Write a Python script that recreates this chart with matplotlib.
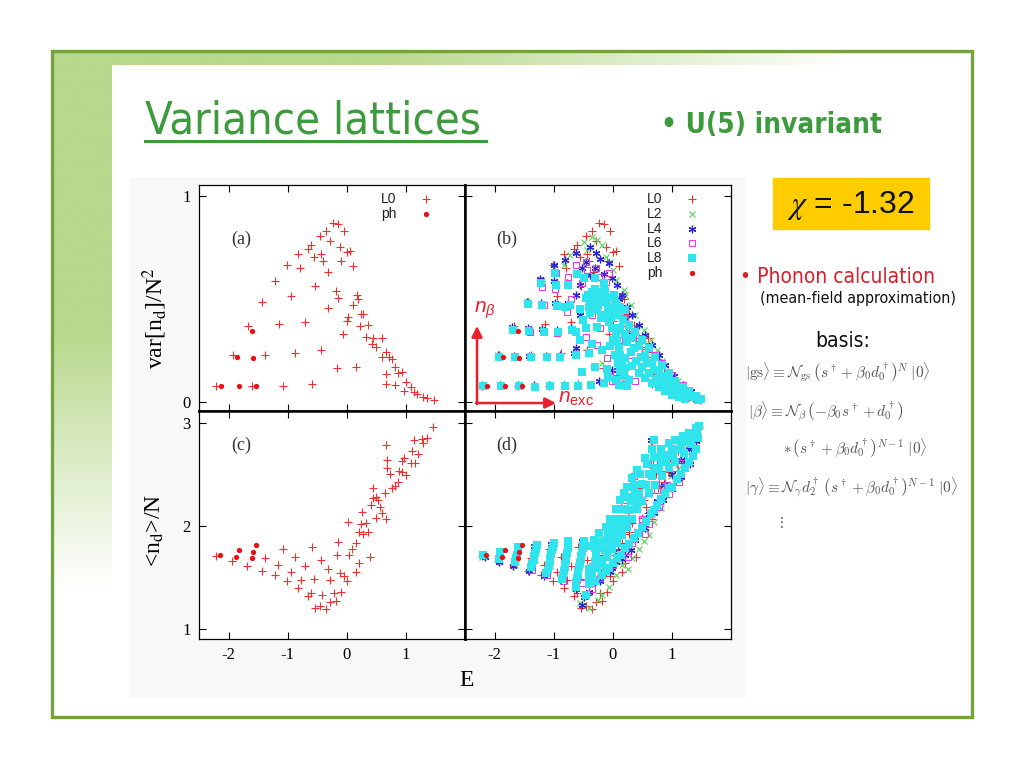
import numpy as np
import matplotlib
matplotlib.use('Agg')
import matplotlib.pyplot as plt
from matplotlib.patches import Rectangle

plt.rcParams['axes.unicode_minus'] = False
plt.rcParams['mathtext.fontset'] = 'custom'
plt.rcParams['mathtext.rm'] = 'Liberation Sans'
plt.rcParams['mathtext.it'] = 'Liberation Sans:italic'

# ---- data: (E, var[nd]/N^2) for the top panels
l0_var = [(-2.21,0.078),(-1.60,0.078),(-1.08,0.078),(-0.59,0.086),
          (-1.93,0.228),(-1.38,0.23),(-0.87,0.236),(-0.43,0.254),(-0.16,0.162),(0.16,0.17),
          (-1.67,0.367),(-1.15,0.377),(-0.70,0.387),(-0.06,0.33),
          (-1.44,0.485),(-0.94,0.513),(-0.31,0.456),(-0.15,0.505),
          (-1.22,0.59),(-0.79,0.652),(-0.54,0.561),(-0.31,0.63),(-0.19,0.539),(0.10,0.663),
          (-1.01,0.668),(-0.82,0.72),(-0.55,0.704),(-0.40,0.683),(-0.10,0.684),(0.01,0.728),(0.05,0.733),
          (-0.66,0.744),(-0.60,0.764),(-0.43,0.717),(-0.28,0.78),(-0.11,0.752),
          (-0.46,0.807),(-0.35,0.833),(-0.23,0.869),(-0.15,0.866),(-0.04,0.83),
          (0.18,0.518),(0.19,0.50),(0.10,0.469),(0.24,0.426),(0.28,0.429),(0.02,0.413),(0.01,0.393),
          (0.22,0.369),(0.36,0.372),(0.32,0.316),(0.45,0.312),(0.60,0.31),(0.43,0.283),(0.50,0.267),
          (0.66,0.243),(0.71,0.218),(0.59,0.218),(0.77,0.21),(0.82,0.17),(0.93,0.146),(0.87,0.138),
          (0.66,0.134),(1.00,0.097),(1.09,0.073),(1.14,0.049),(1.19,0.036),(1.29,0.024),(1.36,0.016),
          (1.47,0.008),(0.66,0.086),(0.81,0.083),(0.97,0.053)]

l2_var = [(-0.49,0.778),(-0.35,0.803),(-0.27,0.786),(-0.18,0.762),(-0.44,0.738),(-0.12,0.705),
          (0.05,0.592),(0.19,0.544),(0.21,0.519),(0.38,0.422),(0.53,0.35),(0.64,0.301),(0.84,0.196),
          (0.95,0.147),(-0.18,0.188),(-0.83,0.668),(-1.20,0.592),(-0.72,0.714),(-0.05,0.68),(0.00,0.64),
          (0.30,0.47),(0.75,0.25),(1.10,0.10),(1.30,0.04),(-1.45,0.49),(-1.70,0.36),(-1.95,0.23),(-2.22,0.08)]

l4_var = [(-2.22,0.08),(-1.91,0.08),(-1.61,0.08),(-1.33,0.08),(-1.08,0.08),(-0.82,0.08),
          (-1.95,0.228),(-1.67,0.225),(-1.41,0.225),(-1.13,0.225),(-0.90,0.228),(-0.65,0.236),
          (-1.70,0.366),(-1.44,0.36),(-1.19,0.355),(-0.95,0.35),(-0.70,0.36),
          (-1.45,0.487),(-1.21,0.48),(-0.97,0.479),(-0.76,0.48),
          (-1.23,0.597),(-0.99,0.59),(-0.77,0.58),(-0.55,0.57),
          (-1.00,0.665),(-0.80,0.689),(-0.63,0.722),(-0.52,0.649),(-0.38,0.617),
          (-0.38,0.754),(-0.29,0.722),(-0.21,0.697),(-0.07,0.673),(-0.01,0.60),(0.07,0.568),
          (0.16,0.519),(0.24,0.463),(0.33,0.422),(0.44,0.374),(0.55,0.325),(0.67,0.277),(0.78,0.228),
          (0.89,0.18),(1.03,0.123),(1.18,0.083),(1.32,0.05),(1.46,0.021),
          (-0.63,0.519),(-0.55,0.422),(-0.63,0.26),(-0.24,0.099),(-0.01,0.155),(-0.46,0.68),
          (-0.30,0.65),(-0.15,0.62),(0.10,0.50),(0.20,0.40),(0.30,0.33),(0.40,0.27)]

l6_var = [(-0.96,0.628),(-0.75,0.608),(-0.63,0.665),(-0.44,0.64),(-0.24,0.608),(-0.12,0.584),
          (-0.52,0.576),(-0.77,0.438),(-0.94,0.333),(-0.46,0.317),(-0.27,0.277),(-0.21,0.358),
          (-0.10,0.212),(0.05,0.147),(0.21,0.115),(0.38,0.099),(-0.01,0.099),(0.21,0.406),
          (0.33,0.358),(0.44,0.309),(0.55,0.269),(0.69,0.228),(0.84,0.188),(1.01,0.131),(1.18,0.083),
          (-1.17,0.471),(-0.46,0.681),(-0.29,0.649),(-0.07,0.625),(-1.20,0.56),(-0.98,0.55),
          (-1.40,0.34),(-0.70,0.50),(-0.35,0.42),(0.10,0.30),(0.30,0.20)]

l8_var = [(-2.20,0.078),(-1.89,0.078),(-1.59,0.078),(-1.31,0.074),(-1.06,0.078),(-0.80,0.078),
          (-0.58,0.079),(-0.36,0.083),(-0.15,0.091),(0.05,0.104),(0.24,0.079),(-0.52,0.144),
          (-1.93,0.22),(-1.65,0.217),(-1.38,0.217),(-1.11,0.22),(-0.89,0.22),(-0.63,0.228),
          (-0.41,0.236),(-0.19,0.252),
          (-1.69,0.35),(-1.42,0.345),(-1.17,0.341),(-0.93,0.341),(-0.69,0.35),(-0.46,0.358),(-0.27,0.366),
          (-1.44,0.474),(-1.19,0.471),(-0.94,0.468),(-0.72,0.471),
          (-1.21,0.576),(-0.96,0.568),(-0.75,0.568),(-0.98,0.625),
          (-0.46,0.503),(-0.38,0.495),(-0.29,0.511),(-0.21,0.495),(-0.12,0.484),(-0.04,0.503),
          (0.05,0.479),(0.13,0.463),(0.21,0.447),(-0.41,0.463),(-0.27,0.447),(-0.15,0.422),
          (-0.07,0.439),(-0.21,0.536),(-0.35,0.532),
          (-0.07,0.39),(-0.01,0.358),(0.05,0.325),(0.07,0.293),(0.10,0.26),(0.13,0.228),
          (0.16,0.196),(0.21,0.163),(0.19,0.123),(0.27,0.107),
          (0.27,0.374),(0.38,0.341),(0.50,0.301),(0.61,0.26),(0.72,0.22),(0.84,0.18),(0.95,0.139),
          (1.06,0.099),(1.18,0.074),(1.29,0.05),(1.40,0.026),(1.49,0.015),
          (0.24,0.293),(0.36,0.26),(0.47,0.22),(0.58,0.188),(0.69,0.155),(0.81,0.123),(0.92,0.099),
          (1.03,0.074),(1.15,0.053),(1.26,0.034),(1.37,0.021),
          (0.21,0.212),(0.33,0.172),(0.44,0.139),(0.55,0.115),(0.67,0.091),(0.78,0.07),(0.89,0.05),
          (1.01,0.034),(1.12,0.023),(1.23,0.015),
          (-0.42,0.52),(-0.33,0.48),(-0.25,0.47),(-0.17,0.51),(-0.08,0.46),(0.00,0.44),(0.09,0.42),
          (0.17,0.40),(-0.30,0.55),(-0.13,0.54),(0.02,0.52),(-0.38,0.43),(-0.20,0.41),(-0.03,0.41),
          (0.13,0.36),(0.00,0.30),(0.08,0.35),(-0.05,0.27),(0.03,0.23),(0.08,0.19),(0.12,0.15),
          (0.30,0.24),(0.40,0.20),(0.50,0.17),(0.62,0.14),(0.73,0.11),(0.85,0.09),(0.97,0.065),
          (0.33,0.31),(0.44,0.27),(0.55,0.23),(0.66,0.19),(0.78,0.15),(0.90,0.12),(1.00,0.09),
          (1.10,0.06),(1.20,0.04),(1.33,0.03),(1.44,0.01),(0.20,0.33),(-0.60,0.62),(-0.48,0.60),
          (-0.30,0.60),(-0.15,0.58),(-0.55,0.30),(-0.35,0.28),(-0.30,0.17),(-0.10,0.16),(-0.08,0.12),
          (0.10,0.08),(-0.80,0.46),(-0.55,0.45),(-0.50,0.40),(-0.62,0.34)]

ph_var = [(-2.12,0.075),(-1.83,0.075),(-1.54,0.075),(-1.86,0.217),(-1.58,0.212),(-1.60,0.346)]

# ---- (E, <nd>/N) for the bottom panels
l0_nd = [(-2.21,1.71),(-1.94,1.655),(-1.68,1.61),(-1.43,1.56),(-1.38,1.69),(-1.22,1.52),(-1.17,1.62),
         (-1.08,1.77),(-1.01,1.46),(-0.95,1.55),(-0.87,1.70),(-0.82,1.40),(-0.77,1.47),(-0.70,1.61),
         (-0.66,1.315),(-0.60,1.35),(-0.59,1.79),(-0.55,1.48),(-0.54,1.20),(-0.46,1.22),(-0.43,1.67),
         (-0.42,1.33),(-0.35,1.19),(-0.31,1.58),(-0.29,1.26),(-0.28,1.47),(-0.22,1.35),(-0.18,1.27),
         (-0.16,1.72),(-0.15,1.84),(-0.10,1.36),(-0.11,1.54),(-0.04,1.51),(0.01,1.46),(0.03,1.72),
         (0.02,2.04),(0.09,1.77),(0.16,1.55),(0.20,1.64),(0.16,1.83),(0.20,1.94),(0.24,2.02),
         (0.26,2.13),(0.28,1.92),(0.33,2.03),(0.36,1.94),(0.40,1.70),(0.41,2.20),(0.44,2.27),
         (0.49,2.28),(0.45,2.37),(0.49,2.08),(0.53,2.25),(0.57,2.18),(0.60,2.12),(0.64,2.32),
         (0.66,2.07),(0.66,2.78),(0.68,2.64),(0.68,2.56),(0.73,2.50),(0.77,2.365),(0.82,2.39),
         (0.87,2.43),(0.88,2.53),(0.93,2.52),(0.94,2.63),(0.97,2.66),(1.00,2.49),(1.10,2.73),
         (1.08,2.61),(1.15,2.61),(1.14,2.83),(1.21,2.70),(1.28,2.84),(1.29,2.80),(1.35,2.85),(1.46,2.96)]

l2_nd = [(-0.07,1.41),(0.05,1.52),(0.16,1.62),(0.33,1.69),(0.44,1.77),(0.61,1.91),(0.69,2.04),
         (0.81,2.17),(0.98,2.48),(-0.18,1.33),(-0.41,1.20),(-0.25,1.28),(-0.55,1.25),(0.25,1.58),
         (0.90,2.30),(1.10,2.55),(0.52,1.85),(-2.21,1.70),(-1.91,1.66),(-1.66,1.62)]

l4_nd = [(-2.17,1.70),(-1.92,1.65),(-1.68,1.61),(-1.42,1.56),(-1.17,1.51),(-0.87,1.48),(-0.63,1.39),
         (-0.49,1.31),(-0.52,1.23),(-0.18,1.56),(0.05,1.65),(0.21,1.72),(0.38,1.86),(0.53,2.01),
         (0.61,2.11),(0.75,2.24),(0.86,2.40),(1.01,2.50),(1.15,2.64),(1.29,2.75),(1.40,2.82),
         (0.64,2.83),(-0.01,1.59),(-0.21,1.46),(-0.41,1.36),(-1.90,1.74),(-1.62,1.78),(-1.33,1.80),
         (-1.05,1.82),(-0.78,1.84),(-0.52,1.85),(-0.30,1.45),(0.10,1.75),(0.45,1.95),
         (0.55,1.98),(0.70,2.12),(0.85,2.25),(1.00,2.36),(1.15,2.47),(1.30,2.60),(0.30,1.76),
         (0.15,1.68),(-0.05,1.55)]

l6_nd = [(0.69,2.62),(0.36,2.48),(0.19,2.19),(0.75,2.35),(0.92,2.40),(0.50,2.07),(0.33,1.83),
         (-0.21,1.49),(-0.35,1.39),(-0.52,1.44),(0.64,2.11),(0.84,2.43),(1.06,2.56),(1.18,2.67),
         (-1.37,1.57),(-1.12,1.52),(-0.85,1.46),(0.00,1.62),(0.25,1.70),(0.55,1.92),
         (0.62,2.02),(0.78,2.18),(0.95,2.31),(1.12,2.43)]

l8_nd = [(-2.19,1.72),(-1.90,1.75),(-1.91,1.715),(-1.92,1.68),
         (-1.60,1.79),(-1.61,1.755),(-1.62,1.72),(-1.635,1.685),(-1.65,1.65),
         (-1.28,1.81),(-1.295,1.775),(-1.31,1.74),(-1.325,1.705),(-1.34,1.67),(-1.36,1.635),(-1.38,1.60),
         (-1.00,1.83),(-1.015,1.795),(-1.03,1.76),(-1.045,1.725),(-1.06,1.69),(-1.07,1.65),
         (-1.08,1.61),(-1.10,1.575),(-1.13,1.54),
         (-0.75,1.85),(-0.755,1.815),(-0.76,1.78),(-0.775,1.74),(-0.79,1.70),(-0.795,1.665),
         (-0.80,1.63),(-0.815,1.595),(-0.83,1.56),(-0.845,1.52),(-0.86,1.48),
         (-0.49,1.85),(-0.50,1.815),(-0.51,1.78),(-0.52,1.745),(-0.53,1.71),(-0.54,1.675),
         (-0.55,1.64),(-0.565,1.60),(-0.58,1.56),(-0.59,1.525),(-0.60,1.49),(-0.615,1.45),(-0.63,1.41),
         (-0.32,1.86),(-0.24,1.93),(-0.12,1.99),(-0.04,2.07),(0.05,2.16),(0.13,2.25),(0.19,2.32),
         (0.24,2.38),(0.33,2.46),(0.41,2.54),(0.55,2.66),(0.67,2.75),(0.69,2.83),(0.81,2.75),
         (0.95,2.80),(1.06,2.83),(1.18,2.87),(1.29,2.90),(1.40,2.95),(1.46,2.97),
         (-0.29,1.72),(-0.21,1.78),(-0.12,1.85),(-0.04,1.91),(0.05,1.99),(0.13,2.07),(0.21,2.16),
         (0.30,2.24),(0.38,2.32),(0.50,2.41),(0.61,2.50),(0.72,2.56),(0.84,2.62),(0.95,2.69),
         (1.09,2.75),(1.23,2.82),(1.34,2.88),
         (-0.35,1.52),(-0.27,1.59),(-0.18,1.64),(-0.10,1.70),(-0.01,1.77),(0.07,1.83),(0.16,1.91),
         (0.24,1.99),(0.33,2.07),(0.41,2.16),(0.50,2.24),(0.61,2.32),(0.72,2.40),(0.84,2.48),
         (0.95,2.56),(1.06,2.62),(1.20,2.71),(1.32,2.79),
         (-0.41,1.43),(-0.46,1.33),(-0.18,1.52),(-0.07,1.59),(0.07,1.69),(0.21,1.78),(0.36,1.88),
         (0.50,1.99),(0.64,2.11),(0.75,2.20),(0.89,2.32),(1.01,2.38),(1.15,2.50),(1.29,2.62),(1.40,2.75),
         (-0.38,1.80),(-0.30,1.65),(-0.40,1.58),
         (-0.30,1.78),(-0.20,1.84),(-0.08,1.92),(0.00,1.99),(0.09,2.07),(0.17,2.16),(0.26,2.28),
         (0.36,2.40),(0.46,2.50),(0.58,2.60),(0.70,2.67),(0.82,2.70),(1.00,2.75),(1.15,2.80),
         (1.30,2.85),(1.43,2.92),
         (-0.33,1.60),(-0.22,1.67),(-0.14,1.76),(-0.05,1.84),(0.03,1.91),(0.12,1.99),(0.20,2.07),
         (0.28,2.15),(0.36,2.24),(0.45,2.32),(0.56,2.40),(0.67,2.48),(0.78,2.55),(0.90,2.62),
         (1.02,2.68),(1.15,2.75),(1.27,2.81),(1.38,2.86),
         (-0.40,1.50),(-0.30,1.46),(-0.12,1.56),(0.00,1.64),(0.14,1.72),(0.28,1.82),(0.43,1.93),
         (0.57,2.05),(0.70,2.15),(0.82,2.26),(0.95,2.37),(1.08,2.45),(1.22,2.56),(1.35,2.68),(1.45,2.85)]

ph_nd = [(-2.14,1.72),(-1.87,1.70),(-1.83,1.76),(-1.60,1.69),(-1.59,1.745),(-1.54,1.81)]

labels = ['L0', 'L2', 'L4', 'L6', 'L8', 'ph']
xticks = [-2, -1, 0, 1]

# marker styles (gnuplot look)
styles = {
    'L0': dict(marker='+', color='#f03030', ms=6, mew=0.8, ls='none'),
    'L2': dict(marker='x', color='#5cd05c', ms=4.5, mew=0.8, ls='none'),
    'L4': dict(marker=(6, 2, 0), color='#2a2ad0', ms=5.5, mew=0.9, ls='none'),
    'L6': dict(marker='s', mfc='none', mec='#e040e0', ms=5, mew=0.8, ls='none'),
    'L8': dict(marker='s', color='#30e4ee', mec='#30e4ee', ms=5.4, mew=0, ls='none'),
    'ph': dict(marker='o', color='#e81010', mec='#e81010', ms=3.8, mew=0, ls='none'),
}

W, H = 1024, 768
fig = plt.figure(figsize=(W / 100, H / 100), dpi=100)

# ---- slide background
bg = fig.add_axes([0, 0, 1, 1])
bg.set_xlim(0, W)
bg.set_ylim(H, 0)
bg.axis('off')
green = np.array([184, 216, 140]) / 255.0
# top band fading to the right
t = np.clip((np.linspace(52, 860, 400) - 380) / 470.0, 0, 1)
band = green[None, None, :] * (1 - t)[None, :, None] + t[None, :, None]
bg.imshow(band, extent=(52, 860, 65, 51), aspect='auto', zorder=1)
# left strip fading downward
s = np.clip((np.linspace(65, 600, 300) - 330) / 260.0, 0, 1)
strip = green[None, None, :] * (1 - s)[:, None, None] + s[:, None, None]
bg.imshow(strip, extent=(52, 112, 600, 65), aspect='auto', zorder=1)
bg.add_patch(Rectangle((130, 178), 615, 519, color='#f8f8f8', zorder=1.5))
bg.add_patch(Rectangle((52, 51), 920, 666, fill=False, ec='#74a23e', lw=2.4, zorder=3))

title_font = dict(family='DejaVu Sans', fontstretch='condensed')
bg.text(145, 133, 'Variance lattices', color='#3d9b3d', fontsize=32.5, va='baseline',
        ha='left', zorder=4, **title_font)
bg.plot([145, 486], [141, 141], color='#3d9b3d', lw=2.2, zorder=4)
bg.text(661, 133, '\u2022 U(5) invariant', color='#3d9b3d', fontsize=20, fontweight='bold',
        va='baseline', ha='left', zorder=4, **title_font)

bg.add_patch(Rectangle((773, 178), 156, 51, color='#ffcc00', zorder=2))
bg.text(851, 205, r'$\chi$ = -1.32', fontsize=23, family='Liberation Sans', math_fontfamily='stix',
        ha='center', va='center', color='#111111', zorder=4)
bg.text(740, 283, '\u2022 Phonon calculation', color='#d8202c', fontsize=15, va='baseline',
        ha='left', zorder=4, **title_font)
bg.text(858, 298, '(mean-field approximation)', color='#111111', fontsize=11.5, va='center',
        ha='center', zorder=4, **title_font)
bg.text(843, 341, 'basis:', color='#111111', fontsize=15, va='center', ha='center', zorder=4,
        **title_font)

eq_kw = dict(fontsize=11, color='#555555', math_fontfamily='cm', va='center', ha='left', zorder=4)
bg.text(745, 372, r'$|\mathrm{gs}\rangle \equiv \mathcal{N}_{\mathrm{gs}}\,\left(s^\dagger + \beta_0 d_0^\dagger\right)^N\;|0\rangle$', **eq_kw)
bg.text(748, 412, r'$|\beta\rangle \equiv \mathcal{N}_\beta\,\left(-\beta_0 s^\dagger + d_0^\dagger\right)$', **eq_kw)
bg.text(783, 448, r'$*\,\left(s^\dagger + \beta_0 d_0^\dagger\right)^{N-1}\;|0\rangle$', **eq_kw)
bg.text(745, 487, r'$|\gamma\rangle \equiv \mathcal{N}_\gamma d_2^\dagger\,\left(s^\dagger + \beta_0 d_0^\dagger\right)^{N-1}\;|0\rangle$', **eq_kw)
bg.text(777, 522, r'$\vdots$', **eq_kw)


def px_axes(x0, y0, x1, y1):
    return fig.add_axes([x0 / W, 1 - y1 / H, (x1 - x0) / W, (y1 - y0) / H])


serif = 'Liberation Serif'
ax_a = px_axes(199, 185, 465, 411)
ax_b = px_axes(465, 185, 731, 411)
ax_c = px_axes(199, 411, 465, 639)
ax_d = px_axes(465, 411, 731, 639)

panels = [
    (ax_a, '(a)', 'top', 'left', {'L0': l0_var, 'ph': ph_var}),
    (ax_b, '(b)', 'top', 'right', {'L0': l0_var, 'L2': l2_var, 'L4': l4_var, 'L6': l6_var,
                                   'L8': l8_var, 'ph': ph_var}),
    (ax_c, '(c)', 'bottom', 'left', {'L0': l0_nd, 'ph': ph_nd}),
    (ax_d, '(d)', 'bottom', 'right', {'L0': l0_nd, 'L2': l2_nd, 'L4': l4_nd, 'L6': l6_nd,
                                      'L8': l8_nd, 'ph': ph_nd}),
]

for ax, tag, row, col, series in panels:
    ax.set_facecolor('white')
    for name in labels:
        if name in series:
            xs, ys = zip(*series[name])
            ax.plot(xs, ys, **styles[name])
    ax.set_xlim(-2.5, 2.0)
    ax.set_xticks(xticks)
    if row == 'top':
        ax.set_ylim(-0.045, 1.055)
        ax.set_yticks([0, 1])
    else:
        ax.set_ylim(0.9, 3.115)
        ax.set_yticks([1, 2, 3])
    ax.tick_params(direction='in', length=5, width=0.8, top=True, right=True, pad=6,
                   labelsize=12, labelbottom=(row == 'bottom'), labelleft=(col == 'left'))
    for lab in ax.get_xticklabels() + ax.get_yticklabels():
        lab.set_family(serif)
    for sp in ax.spines.values():
        sp.set_linewidth(0.9)
    ax.spines['right' if col == 'left' else 'left'].set_linewidth(1.8)
    ax.spines['bottom' if row == 'top' else 'top'].set_linewidth(1.8)
    ax.text(0.157, 0.76 if row == 'top' else 0.85, tag, transform=ax.transAxes,
            family=serif, fontsize=13, ha='center', va='center', color='#333333')
    # key in the upper right corner (top panels only)
    if row == 'top':
        keys = [n for n in labels if n in series]
        for i, name in enumerate(keys):
            yk = 0.938 - i * 0.0655
            ax.text(0.684, yk, name, transform=ax.transAxes, family='Liberation Sans',
                    fontsize=10, ha='left', va='center', color='#222222')
            ax.plot([0.853], [yk], transform=ax.transAxes, clip_on=False, **styles[name])

# axis labels
bg.text(155, 318, r'var[n$_{\mathrm{d}}$]/N$^{2}$', family=serif, math_fontfamily='stix',
        fontsize=17, rotation=90, ha='center', va='center', zorder=4)
bg.text(155, 530, r'<n$_{\mathrm{d}}$>/N', family=serif, math_fontfamily='stix',
        fontsize=17, rotation=90, ha='center', va='center', zorder=4)
bg.text(467, 680, 'E', family=serif, fontsize=17, ha='center', va='center', zorder=4)

# overlay with the n_beta / n_exc arrows
top = fig.add_axes([0, 0, 1, 1], zorder=10)
top.set_xlim(0, W)
top.set_ylim(H, 0)
top.axis('off')
red = '#e8202a'
top.annotate('', xy=(477, 326), xytext=(477, 404),
             arrowprops=dict(arrowstyle='-|>', color=red, lw=1.8, mutation_scale=16, shrinkA=0, shrinkB=0))
top.annotate('', xy=(556, 403), xytext=(476, 403),
             arrowprops=dict(arrowstyle='-|>', color=red, lw=1.8, mutation_scale=16, shrinkA=0, shrinkB=0))
top.text(474, 310, r'$n_{\beta}$', color=red, fontsize=15, ha='left', va='center')
top.text(558, 398, r'$n_{\mathrm{exc}}$', color=red, fontsize=15, ha='left', va='center')

fig.savefig('out.png', dpi=100)
